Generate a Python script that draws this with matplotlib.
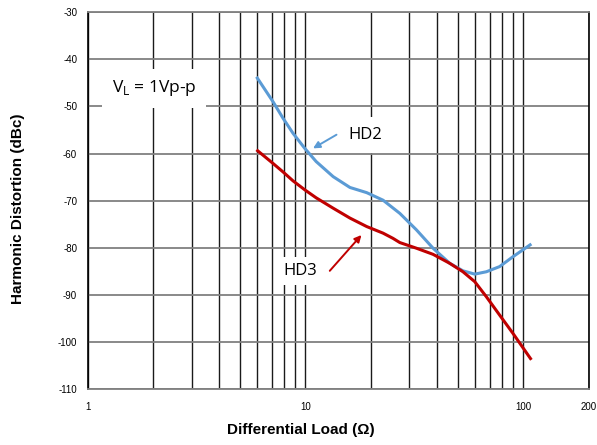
import numpy as np
import matplotlib
matplotlib.use("Agg")
import matplotlib.pyplot as plt

# differential load (ohm) and harmonic distortion (dBc)
hd2_load = [5.96, 7.10, 7.89, 8.77, 9.93, 11.2, 13.4, 16.0, 19.1, 22.7, 27.1,
            32.3, 38.5, 45.9, 52.8, 59.8, 67.6, 77.8, 89.6, 108.8]
hd2_dbc = [-43.7, -49.0, -52.5, -55.7, -58.9, -61.7, -64.9, -67.2, -68.3, -69.9, -72.7,
           -76.2, -80.1, -83.3, -84.9, -85.6, -85.1, -84.0, -81.9, -79.2]

hd3_load = [5.96, 7.10, 7.89, 8.77, 9.93, 11.2, 13.4, 16.0, 19.1, 22.7, 25.2, 27.1,
            32.3, 38.5, 45.9, 52.8, 59.8, 67.6, 77.8, 89.6, 108.8]
hd3_dbc = [-59.2, -62.1, -63.9, -65.8, -67.7, -69.4, -71.6, -73.7, -75.5, -76.9, -78.0, -78.9,
           -80.1, -81.4, -83.3, -85.1, -87.2, -90.4, -94.3, -98.2, -103.8]

x_major = [1, 10, 100, 200]
x_minor = [2, 3, 4, 5, 6, 7, 8, 9, 20, 30, 40, 50, 60, 70, 80, 90]
y_ticks = [-30, -40, -50, -60, -70, -80, -90, -100, -110]

BLUE = "#5B9BD5"
RED = "#C00000"

plt.rcParams["font.family"] = ["Liberation Sans", "DejaVu Sans"]

fig = plt.figure(figsize=(5.97, 4.45), dpi=100)
ax = fig.add_axes([0.1466, 0.1258, 0.840, 0.8466])

ax.set_xscale("log")
ax.set_xlim(1, 200)
ax.set_ylim(-110, -30)
ax.set_xticks(x_major)
ax.set_xticklabels([str(v) for v in x_major])
ax.set_xticks(x_minor, minor=True)
ax.set_xticklabels([], minor=True)
ax.set_yticks(y_ticks)
ax.set_yticklabels([str(v) for v in y_ticks])
ax.tick_params(axis="both", which="both", length=0, labelsize=7)
ax.tick_params(axis="x", pad=9)
ax.tick_params(axis="y", pad=7.5)

ax.grid(True, axis="x", which="both", color="#1a1a1a", lw=1.0, zorder=1)
ax.grid(True, axis="y", which="major", color="#808080", lw=1.3, zorder=1)
ax.set_axisbelow(True)
for side in ["left", "right"]:
    ax.spines[side].set_color("black")
    ax.spines[side].set_linewidth(1.2)
for side in ["top", "bottom"]:
    ax.spines[side].set_color("#808080")
    ax.spines[side].set_linewidth(1.3)

ax.plot(hd2_load, hd2_dbc, color=BLUE, lw=2.2, zorder=5,
        solid_joinstyle="round", solid_capstyle="butt")
ax.plot(hd3_load, hd3_dbc, color=RED, lw=2.2, zorder=5,
        solid_joinstyle="round", solid_capstyle="butt")

font_ann = ["Open Sans", "DejaVu Sans"]
ax.text(1.29, -46.1, r"V$_\mathregular{L}$ = 1Vp-p", fontsize=12.5, family=font_ann,
        ha="left", va="center", zorder=4,
        bbox=dict(facecolor="white", edgecolor="none", boxstyle="square,pad=0.55"))
ax.text(18.8, -56.1, "HD2", fontsize=12, family=font_ann, ha="center", va="center", zorder=4,
        bbox=dict(facecolor="white", edgecolor="none", boxstyle="square,pad=0.6"))
ax.text(9.42, -85.0, "HD3", fontsize=12, family=font_ann, ha="center", va="center", zorder=4,
        bbox=dict(facecolor="white", edgecolor="none", boxstyle="square,pad=0.35"))

ax.annotate("", xy=(10.83, -58.9), xytext=(13.88, -56.0), zorder=6,
            arrowprops=dict(arrowstyle="-|>", color=BLUE, lw=1.4, mutation_scale=10,
                            shrinkA=0, shrinkB=0))
ax.annotate("", xy=(18.07, -77.3), xytext=(12.93, -84.9), zorder=6,
            arrowprops=dict(arrowstyle="-|>", color=RED, lw=1.4, mutation_scale=10,
                            shrinkA=0, shrinkB=0))

fig.text(0.504, 0.033, "Differential Load (\u03a9)", fontsize=11, fontweight="bold",
         ha="center", va="center")
fig.text(0.030, 0.530, "Harmonic Distortion (dBc)", fontsize=11, fontweight="bold",
         ha="center", va="center", rotation=90)

fig.savefig("out.png", dpi=100)
